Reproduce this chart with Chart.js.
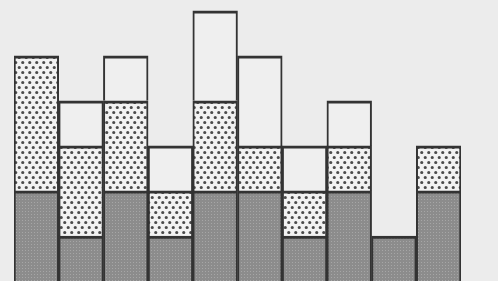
<!DOCTYPE html>
<html>
<head>
<meta charset="utf-8">
<script src="https://cdn.jsdelivr.net/npm/chart.js@4"></script>
<style>
  html, body { margin: 0; padding: 0; background: #ececec; }
  #wrap { width: 498px; height: 281px; }
</style>
</head>
<body>
<div id="wrap"><canvas id="chart" width="498" height="281"></canvas></div>
<script>
const categories = ['1', '2', '3', '4', '5', '6', '7', '8', '9', '10'];
const lowerValues = [2, 1, 2, 1, 2, 2, 1, 2, 1, 2];
const middleValues = [3, 2, 2, 1, 2, 1, 1, 1, 0, 1];
const upperValues = [0, 1, 1, 1, 2, 2, 1, 1, 0, 0];

// fine gray screen for the bottom segments
function grayPattern(ctx) {
    const c = document.createElement('canvas');
    c.width = 3; c.height = 3;
    const g = c.getContext('2d');
    g.fillStyle = '#8c8c8c';
    g.fillRect(0, 0, 3, 3);
    g.fillStyle = '#a6a6a6';
    g.fillRect(1, 1, 1, 1);
    return ctx.createPattern(c, 'repeat');
}

// coarse dot screen for the middle segments
function dotPattern(ctx) {
    const c = document.createElement('canvas');
    c.width = 7; c.height = 10;
    const g = c.getContext('2d');
    g.fillStyle = '#f2f2f2';
    g.fillRect(0, 0, 7, 10);
    g.fillStyle = '#4a4a4a';
    g.beginPath();
    g.arc(1.75, 2.5, 1.6, 0, Math.PI * 2);
    g.closePath();
    g.arc(5.25, 7.5, 1.6, 0, Math.PI * 2);
    g.fill();
    return ctx.createPattern(c, 'repeat');
}

const ctx = document.getElementById('chart').getContext('2d');
const border = { top: 3, left: 2, right: 2, bottom: 0 };

new Chart(ctx, {
    type: 'bar',
    data: {
        labels: categories,
        datasets: [
            { data: lowerValues, backgroundColor: grayPattern(ctx), borderColor: '#333', borderWidth: border, borderSkipped: false },
            { data: middleValues, backgroundColor: dotPattern(ctx), borderColor: '#333', borderWidth: border, borderSkipped: false },
            { data: upperValues, backgroundColor: '#efefef', borderColor: '#333', borderWidth: border, borderSkipped: false }
        ]
    },
    options: {
        responsive: false,
        animation: false,
        layout: { padding: { left: 14, right: 37, top: 0, bottom: 0 } },
        plugins: { legend: { display: false }, tooltip: { enabled: false } },
        datasets: { bar: { categoryPercentage: 1, barPercentage: 1 } },
        scales: {
            x: { stacked: true, display: false },
            y: { stacked: true, display: false, min: 0, max: 6.24 }
        }
    }
});
</script>
</body>
</html>
